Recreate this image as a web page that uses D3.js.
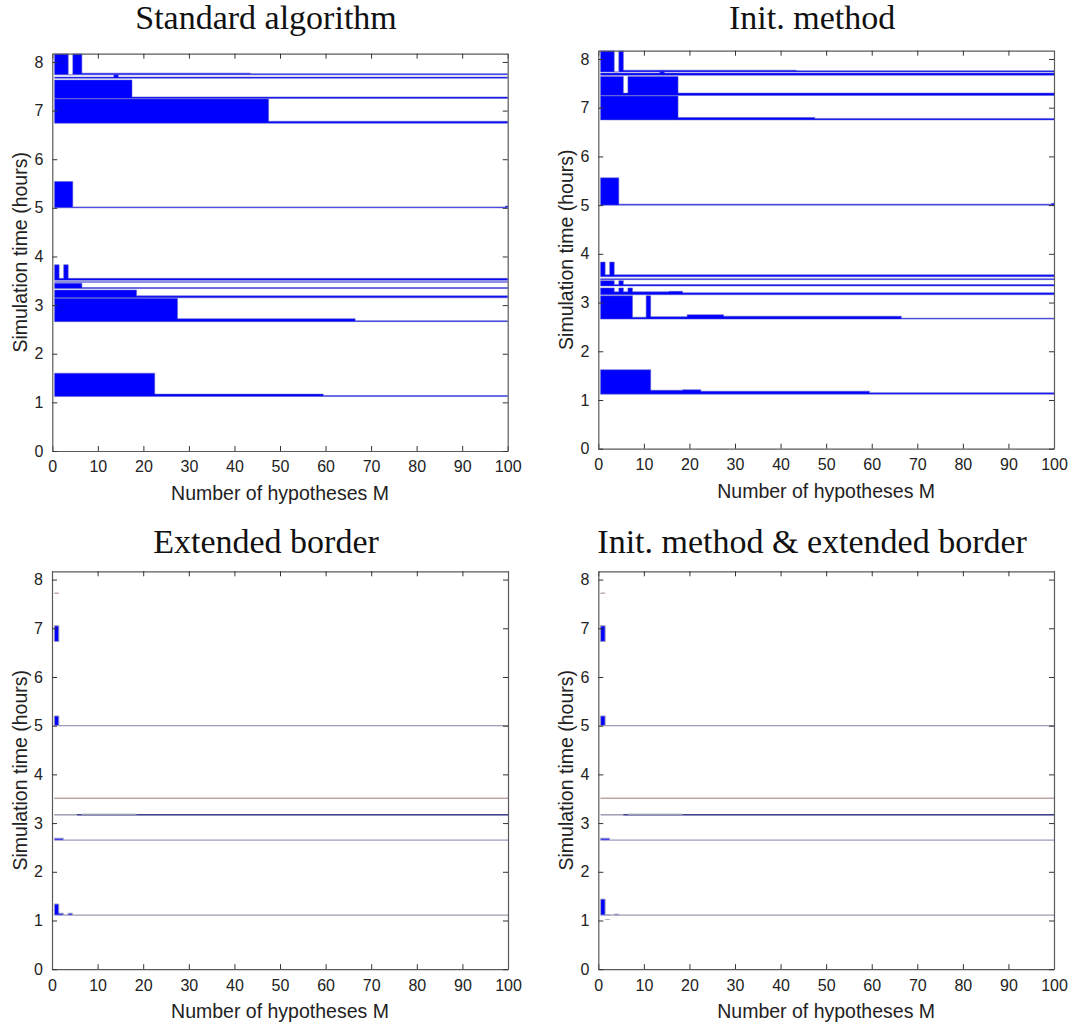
<!DOCTYPE html>
<html><head><meta charset="utf-8">
<script src="https://cdn.jsdelivr.net/npm/d3@7"></script>
<style>body{margin:0;background:#fff}svg{display:block}</style>
</head><body>
<svg id="c" width="1076" height="1030"></svg>
<script>
// ---------- data ----------
const titles = ["Standard algorithm", "Init. method", "Extended border", "Init. method & extended border"];
const xTicks = [0, 10, 20, 30, 40, 50, 60, 70, 80, 90, 100];
const yTicks = [0, 1, 2, 3, 4, 5, 6, 7, 8];
const xLabel = "Number of hypotheses M";
const yLabel = "Simulation time (hours)";
const xMax = 100;
const yMax = 8.17;

// each event: start time (base) and steps [M from, M to, detection time]
const stdBases = [1.12, 2.66, 3.15, 3.34, 3.47, 3.51, 5.00, 6.74, 7.25, 7.665, 7.735];
const stdSteps = [
  [[1, 22, 1.60], [23, 59, 1.17], [60, 100, 1.14]],
  [[1, 27, 3.14], [28, 66, 2.72], [67, 100, 2.68]],
  [[1, 18, 3.31], [19, 100, 3.19]],
  [[1, 6, 3.45], [7, 100, 3.36]],
  [[1, 100, 3.48]],
  [[1, 1, 3.83], [2, 2, 3.55], [3, 3, 3.83], [4, 100, 3.55]],
  [[1, 4, 5.54], [5, 99, 5.02], [100, 100, 5.04]],
  [[1, 47, 7.24], [48, 100, 6.78]],
  [[1, 17, 7.63], [18, 100, 7.28]],
  [[1, 13, 7.69], [14, 14, 7.74], [15, 100, 7.69]],
  [[1, 3, 8.6], [4, 4, 7.735], [5, 6, 8.6], [7, 43, 7.77], [44, 100, 7.76]]
];

const initBases = [1.12, 2.66, 3.16, 3.34, 3.47, 3.53, 5.00, 6.75, 7.25, 7.665, 7.735];
const initSteps = [
  [[1, 11, 1.62], [12, 18, 1.20], [19, 22, 1.21], [23, 59, 1.18], [60, 100, 1.15]],
  [[1, 7, 3.14], [8, 10, 2.70], [11, 11, 3.14], [12, 19, 2.71], [20, 27, 2.75], [28, 66, 2.72], [67, 100, 2.68]],
  [[1, 3, 3.30], [4, 4, 3.22], [5, 5, 3.30], [6, 6, 3.22], [7, 7, 3.30], [8, 15, 3.22], [16, 18, 3.23], [19, 100, 3.20]],
  [[1, 3, 3.45], [4, 4, 3.37], [5, 5, 3.45], [6, 100, 3.37]],
  [[1, 100, 3.49]],
  [[1, 1, 3.83], [2, 2, 3.57], [3, 3, 3.83], [4, 100, 3.57]],
  [[1, 4, 5.56], [5, 99, 5.02], [100, 100, 5.04]],
  [[1, 17, 7.24], [18, 47, 6.80], [48, 100, 6.78]],
  [[1, 5, 7.64], [6, 6, 7.30], [7, 17, 7.64], [18, 100, 7.30]],
  [[1, 13, 7.71], [14, 14, 7.76], [15, 100, 7.71]],
  [[1, 3, 8.6], [4, 4, 7.735], [5, 5, 8.6], [6, 43, 7.77], [44, 100, 7.76]]
];

const extBases = [1.11, 2.65, 3.17, 3.17, 3.18, 3.51, 5.00, 6.73, 7.72];
const extSteps = [
  [[1, 1, 1.34], [2, 2, 1.15], [3, 3, 1.11], [4, 4, 1.15], [5, 100, 1.11]],
  [[1, 2, 2.69], [3, 100, 2.65]],
  [[1, 5, 3.17]],
  [[6, 100, 3.17]],
  [[7, 18, 3.18]],
  [[1, 100, 3.51]],
  [[1, 1, 5.20], [2, 100, 5.00]],
  [[1, 1, 7.05]],
  [[1, 1, 7.72]]
];

const bothBases = [1.02, 1.11, 2.65, 3.17, 3.17, 3.18, 3.51, 5.00, 6.73, 7.72];
const bothSteps = [
  [[2, 2, 1.02]],
  [[1, 1, 1.44], [2, 2, 1.12], [3, 3, 1.11], [4, 4, 1.13], [5, 100, 1.11]],
  [[1, 2, 2.69], [3, 100, 2.65]],
  [[1, 5, 3.17]],
  [[6, 100, 3.17]],
  [[7, 18, 3.18]],
  [[1, 100, 3.51]],
  [[1, 1, 5.20], [2, 100, 5.00]],
  [[1, 1, 7.05]],
  [[1, 1, 7.72]]
];

// ---------- layout & style ----------
const topEdge = "rgba(95,95,200,0.55)";
const panels = [
  {bases: stdBases, steps: stdSteps, x0: 52.3, x1: 507.7, yT: 53.7, yB: 451, titleY: 29, titleDx: -14,
   edge: stdBases.map(() => topEdge)},
  {bases: initBases, steps: initSteps, x0: 598.3, x1: 1054, yT: 50.7, yB: 448.7, titleY: 29, titleDx: -14,
   edge: initBases.map(() => topEdge)},
  {bases: extBases, steps: extSteps, x0: 52, x1: 508, yT: 571.3, yB: 969.2, titleY: 553, titleDx: -14,
   edge: ["#aaaabd", "#a8a8c8", "#9a9ab0", "#2c2c84", "#9c9cb4", "#b89c9c", "#a09cb8", "#9a9ab8", "#c0a8b8"]},
  {bases: bothBases, steps: bothSteps, x0: 598.3, x1: 1054, yT: 571.3, yB: 969.2, titleY: 553, titleDx: -14,
   edge: ["#b0b0b8", "#aaaabd", "#a8a8c8", "#9a9ab0", "#2c2c84", "#9c9cb4", "#b89c9c", "#a09cb8", "#9a9ab8", "#c0a8b8"]}
];

const svg = d3.select("#c");
const axisColor = "#5a5a5a";
const fontTick = "16px 'Liberation Sans', Arial, sans-serif";
const fontLabel = "19.5px 'Liberation Sans', Arial, sans-serif";
const fontTitle = "34px 'Liberation Serif', 'Times New Roman', serif";

panels.forEach((p, i) => {
  const x = d3.scaleLinear().domain([0, xMax]).range([p.x0, p.x1]);
  const y = d3.scaleLinear().domain([0, yMax]).range([p.yB, p.yT]);
  const g = svg.append("g");

  const clipId = "clip" + i;
  svg.append("clipPath").attr("id", clipId).append("rect")
    .attr("x", p.x0).attr("y", p.yT).attr("width", p.x1 - p.x0).attr("height", p.yB - p.yT);

  const marks = g.append("g").attr("clip-path", `url(#${clipId})`);
  const area = d3.area().x(d => x(d[0])).y0(d => y(d[2])).y1(d => y(d[1]));

  p.bases.forEach((b, k) => {
    const pts = [];
    p.steps[k].forEach(s => {
      pts.push([s[0] - 0.5, s[2], b]);
      pts.push([s[1] + 0.5, s[2], b]);
    });
    marks.append("path")
      .attr("d", area(pts) + "")
      .attr("fill", "#0000ff")
      .attr("stroke", p.edge[k])
      .attr("stroke-width", 1);
  });

  // axes
  const ax = g.append("g").attr("transform", `translate(0,${p.yB})`)
    .call(d3.axisBottom(x).tickValues(xTicks).tickSize(-5).tickSizeOuter(0).tickPadding(10));
  const axT = g.append("g").attr("transform", `translate(0,${p.yT})`)
    .call(d3.axisTop(x).tickValues(xTicks).tickSize(-5).tickSizeOuter(0).tickFormat(""));
  const ay = g.append("g").attr("transform", `translate(${p.x0},0)`)
    .call(d3.axisLeft(y).tickValues(yTicks).tickSize(-5).tickSizeOuter(0).tickPadding(9));
  const ayR = g.append("g").attr("transform", `translate(${p.x1},0)`)
    .call(d3.axisRight(y).tickValues(yTicks).tickSize(-5).tickSizeOuter(0).tickFormat(""));
  [ax, axT, ay, ayR].forEach(a => {
    a.select(".domain").attr("stroke", axisColor).attr("stroke-width", 1.2);
    a.selectAll(".tick line").attr("stroke", "#333").attr("stroke-width", 1);
    a.selectAll(".tick text").attr("fill", "#222").style("font", fontTick);
  });

  // labels
  g.append("text").attr("x", (p.x0 + p.x1) / 2).attr("y", p.yB + 49)
    .attr("text-anchor", "middle").attr("fill", "#222")
    .style("font", fontLabel).text(xLabel);
  g.append("text").attr("transform", `translate(${p.x0 - 25},${(p.yT + p.yB) / 2}) rotate(-90)`)
    .attr("text-anchor", "middle").attr("fill", "#222")
    .style("font", fontLabel).text(yLabel);
  g.append("text").attr("x", (p.x0 + p.x1) / 2 + p.titleDx).attr("y", p.titleY)
    .attr("text-anchor", "middle").attr("fill", "#111")
    .style("font", fontTitle).text(titles[i]);
});
</script>
</body></html>
